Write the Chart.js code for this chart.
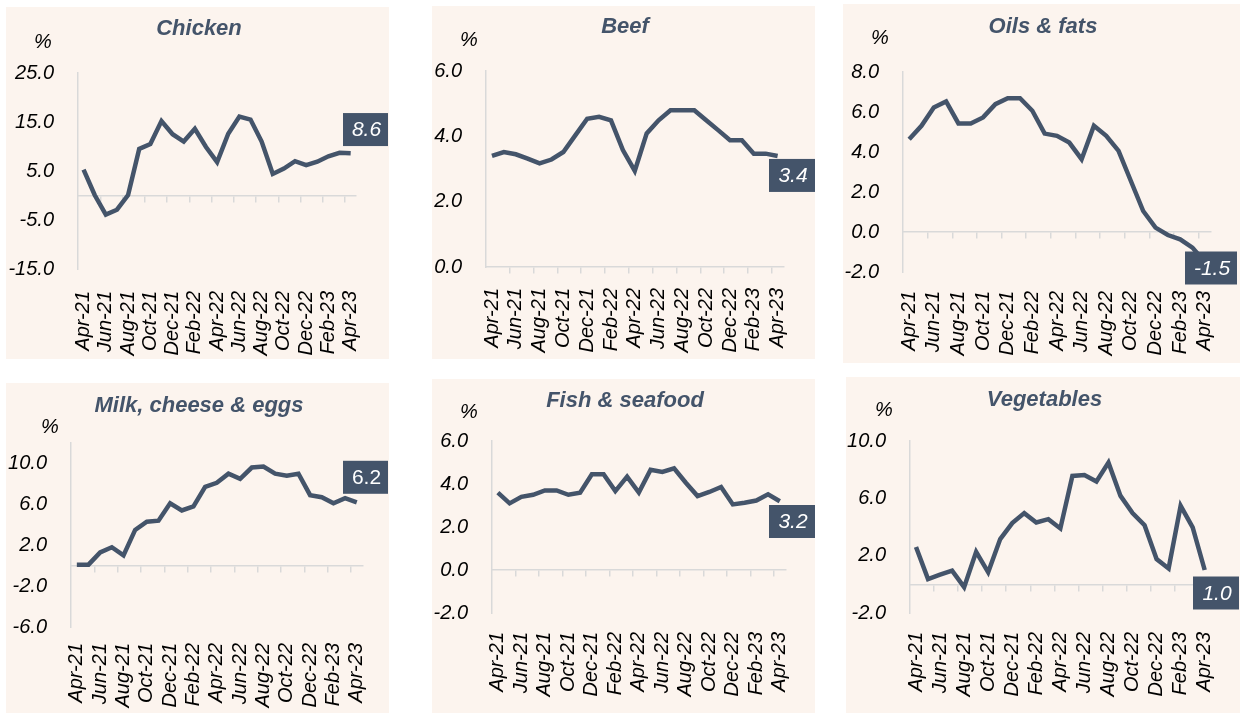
<!DOCTYPE html>
<html>
<head>
<meta charset="utf-8">
<script src="https://cdn.jsdelivr.net/npm/chart.js@4.4.0/dist/chart.umd.min.js"></script>
<style>
  html, body { margin: 0; padding: 0; background: #fff; }
  body { width: 1240px; height: 713px; position: relative; overflow: hidden; }
  .panel { position: absolute; background: #fcf4ee; }
  .panel canvas { display: block; }
</style>
</head>
<body>
<div class="panel" id="p1"><canvas id="c1"></canvas></div>
<div class="panel" id="p2"><canvas id="c2"></canvas></div>
<div class="panel" id="p3"><canvas id="c3"></canvas></div>
<div class="panel" id="p4"><canvas id="c4"></canvas></div>
<div class="panel" id="p5"><canvas id="c5"></canvas></div>
<div class="panel" id="p6"><canvas id="c6"></canvas></div>
<script>
/* ---------- DATA ---------- */
const months = ["Apr-21","May-21","Jun-21","Jul-21","Aug-21","Sep-21","Oct-21","Nov-21","Dec-21",
  "Jan-22","Feb-22","Mar-22","Apr-22","May-22","Jun-22","Jul-22","Aug-22","Sep-22","Oct-22",
  "Nov-22","Dec-22","Jan-23","Feb-23","Mar-23","Apr-23"];

const chicken = [5.3, 0.1, -3.9, -2.9, 0.1, 9.5, 10.5, 15.2, 12.5, 11.0, 13.6, 9.9, 6.8,
  12.6, 16.1, 15.5, 11.0, 4.4, 5.5, 7.0, 6.2, 6.9, 8.0, 8.7, 8.6];
const beef = [3.40, 3.52, 3.45, 3.32, 3.17, 3.29, 3.52, 4.03, 4.54, 4.60, 4.49, 3.58, 2.94,
  4.09, 4.49, 4.80, 4.80, 4.80, 4.49, 4.19, 3.88, 3.88, 3.47, 3.47, 3.4];
const oilsFats = [4.64, 5.31, 6.23, 6.53, 5.43, 5.43, 5.73, 6.39, 6.69, 6.69, 6.06, 4.92, 4.81,
  4.47, 3.64, 5.31, 4.81, 4.06, 2.55, 1.05, 0.22, -0.15, -0.37, -0.78, -1.5];
const milkCheeseEggs = [0.1, 0.1, 1.3, 1.8, 1.0, 3.5, 4.3, 4.4, 6.1, 5.4, 5.8, 7.7, 8.1,
  9.0, 8.5, 9.6, 9.7, 9.0, 8.8, 9.0, 6.9, 6.7, 6.1, 6.6, 6.2];
const fishSeafood = [3.6, 3.1, 3.4, 3.5, 3.7, 3.7, 3.5, 3.6, 4.45, 4.45, 3.67, 4.34, 3.6,
  4.66, 4.56, 4.73, 4.06, 3.44, 3.63, 3.86, 3.05, 3.13, 3.23, 3.52, 3.2];
const vegetables = [2.6, 0.37, 0.67, 0.95, -0.2, 2.27, 0.84, 3.16, 4.27, 4.97, 4.32, 4.55, 3.9,
  7.56, 7.63, 7.17, 8.49, 6.17, 4.97, 4.13, 1.76, 1.11, 5.48, 3.97, 1.0];

const chickenTicks = [-15, -5, 5, 15, 25];
const beefTicks = [0, 2, 4, 6];
const oilsTicks = [-2, 0, 2, 4, 6, 8];
const milkTicks = [-6, -2, 2, 6, 10];
const fishTicks = [-2, 0, 2, 4, 6];
const vegTicks = [-2, 2, 6, 10];

const chickenRange = [-15, 25];
const beefRange = [0, 6];
const oilsRange = [-2, 8];
const milkRange = [-6, 12];
const fishRange = [-2, 6];
const vegRange = [-2, 10];

/* ---------- STYLE ---------- */
const navy = "#44546a";
const axisGray = "#d9d9d9";
const fontFam = '"Liberation Sans", Arial, sans-serif';

/* ---------- PANELS (positions only) ---------- */
const panels = [
  { n: 1, title: "Chicken", data: chicken, ticks: chickenTicks, range: chickenRange,
    box: [6, 7, 383, 352], area: [72, 66, 367, 262], titleY: 22, pct: [37, 35], labelPad: 14,
    val: { w: 45, inset: 1, dy: -23.8, italic: true } },
  { n: 2, title: "Beef", data: beef, ticks: beefTicks, range: beefRange,
    box: [432, 6, 383, 353], area: [54, 65, 364, 261], titleY: 21, pct: [37, 34], labelPad: 13,
    val: { w: 46, inset: 0, dy: 19.5, italic: true } },
  { n: 3, title: "Oils & fats", data: oilsFats, ticks: oilsTicks, range: oilsRange,
    box: [843, 4, 397, 359], area: [60, 68, 386, 268], titleY: 23, pct: [37, 34], labelPad: 11,
    val: { w: 52, inset: 3, dy: 6, italic: true } },
  { n: 4, title: "Milk, cheese & eggs", data: milkCheeseEggs, ticks: milkTicks, range: milkRange,
    box: [6, 383, 383, 330], area: [65, 60, 372, 244], titleY: 23, pct: [44, 44], labelPad: 8,
    val: { w: 45, inset: 1, dy: -25, italic: false } },
  { n: 5, title: "Fish & seafood", data: fishSeafood, ticks: fishTicks, range: fishRange,
    box: [432, 379, 383, 334], area: [60, 62, 373, 234], titleY: 22, pct: [37, 33], labelPad: 11,
    val: { w: 46, inset: 0, dy: 20.3, italic: true } },
  { n: 6, title: "Vegetables", data: vegetables, ticks: vegTicks, range: vegRange,
    box: [846, 377, 394, 336], area: [64, 64, 379, 236], titleY: 23, pct: [38, 33], labelPad: 11,
    val: { w: 46, inset: 1, dy: 23, italic: true } }
];

/* ---------- PLUGIN: title, % and last value box ---------- */
const panelText = {
  id: "panelText",
  afterDraw(chart, args, o) {
    const ctx = chart.ctx;
    const W = chart.width;
    ctx.save();
    ctx.textAlign = "center";
    ctx.textBaseline = "middle";

    ctx.font = "italic bold 22px " + fontFam;
    ctx.fillStyle = navy;
    ctx.fillText(o.title, W / 2 + 1.5, o.titleY);

    ctx.font = "italic 20px " + fontFam;
    ctx.fillStyle = "#000";
    ctx.fillText("%", o.pct[0], o.pct[1]);

    const meta = chart.getDatasetMeta(0);
    const vals = chart.data.datasets[0].data;
    const last = meta.data[meta.data.length - 1];
    const txt = vals[vals.length - 1].toFixed(1);
    const bh = 33;
    const right = W - o.val.inset;
    const cy = last.y + o.val.dy;
    ctx.fillStyle = navy;
    ctx.fillRect(right - o.val.w, cy - bh / 2, o.val.w, bh);
    ctx.font = (o.val.italic ? "italic " : "") + "21px " + fontFam;
    ctx.fillStyle = "#fff";
    ctx.fillText(txt, right - o.val.w / 2 + 1, cy + 1);
    ctx.restore();
  }
};

/* ---------- CHARTS ---------- */
panels.forEach(p => {
  const div = document.getElementById("p" + p.n);
  const [bx, by, bw, bh] = p.box;
  const [al, at, ar, ab] = p.area;
  div.style.left = bx + "px";
  div.style.top = by + "px";
  div.style.width = bw + "px";
  div.style.height = bh + "px";
  const canvas = document.getElementById("c" + p.n);
  canvas.width = bw;
  canvas.height = bh;

  new Chart(canvas, {
    type: "line",
    data: {
      labels: months,
      datasets: [{
        data: p.data,
        borderColor: navy,
        borderWidth: 4.5,
        pointRadius: 0,
        tension: 0,
        fill: false
      }]
    },
    options: {
      responsive: false,
      animation: false,
      layout: { padding: { top: at, right: bw - ar, left: 0, bottom: 0 } },
      plugins: {
        legend: { display: false },
        tooltip: { enabled: false },
        panelText: { title: p.title, titleY: p.titleY, pct: p.pct, val: p.val }
      },
      scales: {
        x: {
          type: "category",
          offset: true,
          grid: { display: false },
          border: { display: false },
          ticks: {
            autoSkip: false,
            minRotation: 90,
            maxRotation: 90,
            padding: p.labelPad,
            color: "#000",
            font: { family: fontFam, size: 20, style: "italic" },
            callback: function (v, i) { return i % 2 === 0 ? this.getLabelForValue(v) : ""; }
          },
          afterFit: s => { s.height = bh - ab; }
        },
        x2: {
          type: "category",
          labels: months,
          offset: true,
          position: { y: 0 },
          ticks: { display: false },
          grid: {
            display: true,
            drawOnChartArea: false,
            drawTicks: true,
            tickLength: 6,
            offset: true,
            lineWidth: 1.5,
            color: c => (c.index > 0 && c.index % 2 === 0) ? axisGray : "rgba(0,0,0,0)"
          },
          border: { display: true, color: axisGray, width: 1.5 }
        },
        y: {
          min: p.range[0],
          max: p.range[1],
          grid: { display: false },
          border: { display: true, color: axisGray, width: 1.5 },
          afterBuildTicks: s => { s.ticks = p.ticks.map(v => ({ value: v })); },
          ticks: {
            padding: 16,
            color: "#000",
            font: { family: fontFam, size: 20, style: "italic" },
            callback: v => Number(v).toFixed(1)
          },
          afterFit: s => { s.width = al; }
        }
      }
    },
    plugins: [panelText]
  });
});
</script>
</body>
</html>
